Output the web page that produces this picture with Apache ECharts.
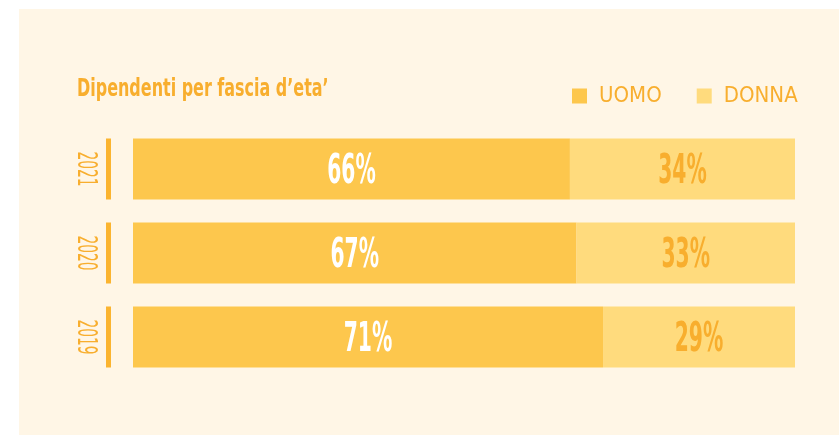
<!DOCTYPE html>
<html>
<head>
<meta charset="utf-8">
<style>html,body{margin:0;padding:0;background:#fff;}#c{width:839px;height:436px;}</style>
<script src="https://cdn.jsdelivr.net/npm/echarts@6/dist/echarts.min.js"></script>
</head>
<body>
<div id="c"></div>
<script>
const years = ['2019', '2020', '2021'];
const uomo = [71, 67, 66];
const donna = [29, 33, 34];
const seriesNames = ['UOMO', 'DONNA'];
const titleText = "Dipendenti per fascia d\u2019eta\u2019";

const FONT = '"DejaVu Sans Condensed", "Liberation Sans Narrow", "Liberation Sans", sans-serif';
const ORANGE = '#F8AE2E';
const C_UOMO = '#FDC74D';
const C_DONNA = '#FFDB7D';

function labelSeries(values, offsets, color) {
  return {
    type: 'custom', clip: false, silent: true, z: 5,
    data: years.map((y, i) => [offsets[i] + values[i] / 2, i, values[i]]),
    encode: {x: 0, y: 1},
    renderItem: function (params, api) {
      const p = api.coord([api.value(0), api.value(1)]);
      return {
        type: 'text', x: p[0], y: p[1] + 3, scaleX: 0.55,
        style: {text: api.value(2) + '%', font: 'bold 41px ' + FONT, fill: color, align: 'center', verticalAlign: 'middle'}
      };
    }
  };
}

const chart = echarts.init(document.getElementById('c'), null, {renderer: 'canvas'});
chart.setOption({
  backgroundColor: '#ffffff',
  animation: false,
  graphic: [{
    type: 'rect', z: -10, silent: true,
    shape: {x: 19, y: 9, width: 820, height: 426},
    style: {fill: '#FFF6E6'}
  }, {
    type: 'text', x: 77, y: 89, scaleX: 0.71, silent: true,
    style: {text: titleText, font: 'bold 25px ' + FONT, fill: ORANGE, align: 'left', verticalAlign: 'middle'}
  }],
  legend: {
    data: seriesNames, left: 572, top: 85, padding: 0,
    icon: 'rect', itemWidth: 15, itemHeight: 15, itemGap: 35,
    textStyle: {fontFamily: FONT, fontSize: 22, color: ORANGE, padding: [0, 0, 0, 7]}
  },
  grid: {left: 133, right: 44, top: 127, bottom: 57},
  xAxis: {type: 'value', min: 0, max: 100, show: false},
  yAxis: {
    type: 'category', data: years,
    axisLine: {show: false}, axisTick: {show: false}, axisLabel: {show: false}
  },
  series: [
    {
      name: 'UOMO', type: 'bar', stack: 'g', data: uomo, barWidth: 61,
      itemStyle: {color: C_UOMO}
    },
    {
      name: 'DONNA', type: 'bar', stack: 'g', data: donna, barWidth: 61,
      itemStyle: {color: C_DONNA}
    },
    {
      type: 'custom', clip: false, silent: true,
      data: years.map((y, i) => [0, i]),
      encode: {x: 0, y: 1},
      renderItem: function (params, api) {
        const p = api.coord([0, api.value(1)]);
        return {
          type: 'group',
          children: [{
            type: 'rect',
            shape: {x: p[0] - 27, y: p[1] - 30.5, width: 5, height: 61},
            style: {fill: '#FBB42F'}
          }, {
            type: 'text', x: p[0] - 48, y: p[1], rotation: -Math.PI / 2, scaleX: 0.59,
            style: {text: years[params.dataIndex], font: '26px ' + FONT, fill: ORANGE, align: 'center', verticalAlign: 'middle'}
          }]
        };
      }
    },
    labelSeries(uomo, [0, 0, 0], '#ffffff'),
    labelSeries(donna, uomo, ORANGE)
  ]
});
</script>
</body>
</html>
